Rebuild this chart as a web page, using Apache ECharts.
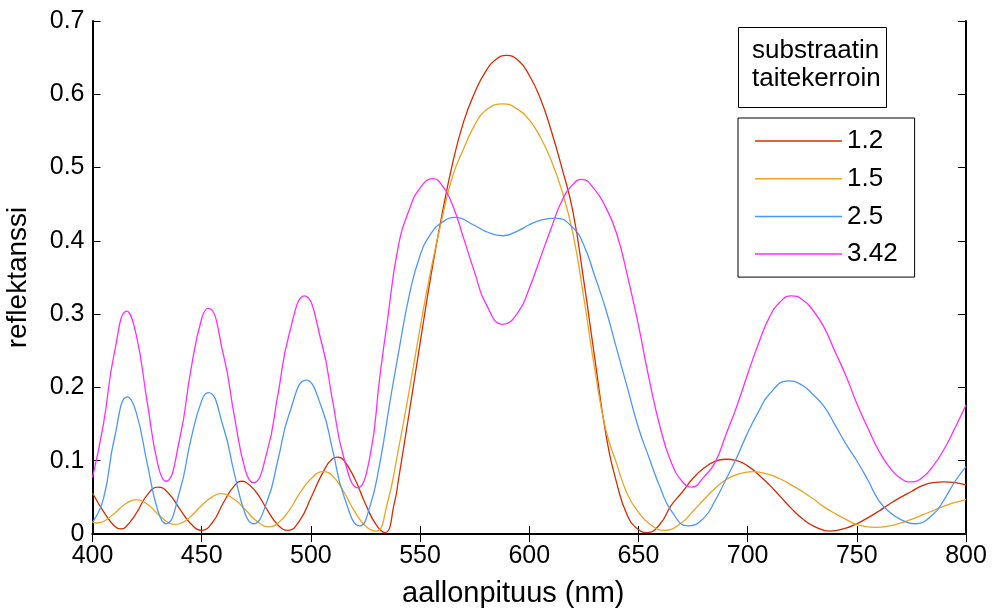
<!DOCTYPE html>
<html>
<head>
<meta charset="utf-8">
<script src="https://cdn.jsdelivr.net/npm/echarts@6/dist/echarts.min.js"></script>
<style>
html,body{margin:0;padding:0;background:#fff;}
#chart{width:993px;height:608px;}
</style>
</head>
<body>
<div id="chart"></div>
<script>
// Substrate index 1.2: wavelength (nm) and reflectance
const wl12 = [400,405,410,413,415,420,425,430,435,440,445,450,455,460,465,468.5,470,475,480,485,489.5,495,500,505,510,512.4,515,520,525,530,533.9,538.5,540,545,550,555,560,565,570,575,580,585,589.5,595,600,605,610,615,620,625,630,635,640,645,650,654,660,665,670,675,680,685,690,695,700,705,710,715,720,725,730,737.7,745,750,755,760,765,770,775,780,785,790,795,800];
const r12  = [0.056,0.031,0.011,0.007,0.009,0.028,0.053,0.064,0.055,0.034,0.014,0.005,0.016,0.043,0.066,0.072,0.071,0.057,0.033,0.012,0.005,0.019,0.049,0.081,0.103,0.105,0.101,0.076,0.041,0.012,0.002,0.046,0.072,0.165,0.260,0.353,0.435,0.507,0.563,0.602,0.631,0.648,0.653,0.646,0.626,0.595,0.551,0.499,0.440,0.345,0.240,0.138,0.070,0.025,0.006,0.002,0.014,0.039,0.057,0.076,0.090,0.099,0.102,0.100,0.093,0.081,0.067,0.051,0.035,0.021,0.011,0.004,0.008,0.014,0.022,0.031,0.041,0.050,0.058,0.066,0.070,0.071,0.070,0.067];

// Substrate index 1.5
const wl15 = [400,402,405,410,415,420,425,430,435,437.8,440,445,450,455,459,465,470,475,481,485,490,495,500,505.7,510,515,520,525,529.8,535,540,545,550,555,560,565,570,575,580,588,595,600,605,610,615,620,625,630,635,640,645,650,655,662,670,675,680,685,690,695,702.6,710,715,720,725,730,735,740,745,750,758.3,765,770,775,780,785,790,795,800];
const r15  = [0.016,0.015,0.017,0.028,0.041,0.047,0.041,0.027,0.015,0.013,0.014,0.024,0.039,0.051,0.055,0.047,0.033,0.018,0.010,0.015,0.032,0.056,0.075,0.085,0.079,0.058,0.031,0.011,0.004,0.042,0.114,0.195,0.281,0.361,0.430,0.489,0.526,0.558,0.578,0.587,0.579,0.565,0.542,0.510,0.468,0.410,0.322,0.225,0.143,0.096,0.054,0.030,0.014,0.005,0.016,0.031,0.047,0.062,0.074,0.081,0.085,0.081,0.075,0.067,0.058,0.048,0.037,0.028,0.020,0.013,0.009,0.011,0.015,0.020,0.026,0.032,0.038,0.043,0.047];

// Substrate index 2.5
const wl25 = [400,405,410,416,420,425,430,433.6,440,445,450,453,460,465,470,473.6,480,485,490,497.8,505,510,515,522.5,527,531.6,536.2,540,545,550,555,560,566,575,580,588,595,600,605,612,620,625,630,635,640,645,650,655,660,665,672.8,680,685,690,695,700,705,710,718.6,725,730,735,740,745,750,755,760,765,770,776.6,785,790,795,800];
const r25  = [0.016,0.048,0.130,0.187,0.166,0.097,0.031,0.014,0.059,0.128,0.182,0.193,0.145,0.082,0.027,0.014,0.045,0.102,0.163,0.210,0.172,0.114,0.053,0.011,0.037,0.097,0.180,0.245,0.325,0.380,0.410,0.425,0.432,0.421,0.413,0.407,0.414,0.422,0.428,0.431,0.418,0.394,0.352,0.307,0.253,0.199,0.145,0.103,0.063,0.032,0.011,0.022,0.045,0.074,0.104,0.138,0.167,0.191,0.209,0.203,0.190,0.174,0.149,0.123,0.100,0.074,0.046,0.030,0.020,0.014,0.027,0.047,0.072,0.092];

// Substrate index 3.42
const wl342 = [400,405,410,415.7,420,425,430,433.6,440,445,450,453,460,465,470,473.6,480,485,490,497,505,510,515,521.4,527,531.6,535,540,545,550,556,560,565,570,575,580,588,595,600,605,610,615,620,624,630,635,640,645,650,655,660,665,670,674.4,680,685,690,695,700,705,710,715,720,725,730,735,740,745,750,755,760,765,770,775,780,785,790,795,800];
const r342  = [0.077,0.150,0.247,0.304,0.272,0.181,0.094,0.072,0.131,0.223,0.294,0.308,0.244,0.160,0.087,0.070,0.113,0.192,0.272,0.325,0.260,0.181,0.105,0.063,0.105,0.215,0.290,0.392,0.442,0.472,0.485,0.476,0.448,0.403,0.357,0.315,0.286,0.303,0.335,0.376,0.417,0.455,0.477,0.484,0.470,0.446,0.410,0.352,0.285,0.210,0.145,0.098,0.072,0.064,0.078,0.097,0.135,0.174,0.218,0.260,0.296,0.317,0.325,0.320,0.305,0.282,0.249,0.216,0.178,0.145,0.114,0.091,0.076,0.071,0.077,0.093,0.116,0.145,0.176];

const seriesNames = ['1.2','1.5','2.5','3.42'];
const seriesX = [wl12, wl15, wl25, wl342];
const seriesY = [r12, r15, r25, r342];
const seriesColors = ['#d92b00','#eea321','#4b97ff','#ff2cff'];
const legendTitle = ['substraatin','taitekerroin'];
const xName = 'aallonpituus (nm)';
const yName = 'reflektanssi';

const FONT = 'Liberation Sans, Arial, Helvetica, sans-serif';

const chart = echarts.init(document.getElementById('chart'), null, {renderer:'canvas'});

const axisCommon = {
  axisLine:{show:true, lineStyle:{color:'#000', width:2}},
  axisTick:{show:true, inside:true, length:8, lineStyle:{color:'#000', width:1}},
  splitLine:{show:false}
};

const option = {
  backgroundColor:'#fff',
  animation:false,
  grid:{left:92.5, right:27, top:21, bottom:74, containLabel:false, outerBoundsMode:'none'},
  xAxis:[
    Object.assign({
      type:'value', position:'bottom', min:400, max:800, interval:50,
      name:xName, nameLocation:'middle', nameGap:45,
      nameTextStyle:{color:'#000', fontSize:29, fontFamily:FONT, padding:[0,32,0,0]},
      axisLabel:{color:'#000', fontSize:25, fontFamily:FONT, margin:10}
    }, axisCommon),
    Object.assign({
      type:'value', position:'top', min:400, max:800, interval:50,
      axisLabel:{show:false}
    }, axisCommon)
  ],
  yAxis:[
    Object.assign({
      type:'value', position:'left', min:0, max:0.7, interval:0.1,
      name:yName, nameLocation:'middle', nameGap:60,
      nameTextStyle:{color:'#000', fontSize:28, fontFamily:FONT},
      axisLabel:{color:'#000', fontSize:25, fontFamily:FONT, margin:8}
    }, axisCommon),
    Object.assign({
      type:'value', position:'right', min:0, max:0.7, interval:0.1,
      axisLabel:{show:false}
    }, axisCommon)
  ],
  legend:{
    orient:'vertical', left:738, top:118,
    data:seriesNames.map((n, i) => ({name:n, icon:'rect', itemStyle:{color:seriesColors[i]}})),
    backgroundColor:'#fff',
    borderColor:'#000', borderWidth:1,
    padding:[10,17,10,17],
    itemWidth:87, itemHeight:1.5, itemGap:11.7,
    textStyle:{color:'#000', fontSize:26, fontFamily:FONT, lineHeight:26}
  },
  graphic:[
    {type:'rect', left:738, top:27, z:100,
     shape:{x:0, y:0, width:148, height:80},
     style:{fill:'#fff', stroke:'#000', lineWidth:1}},
    {type:'text', left:752, top:37, z:101,
     style:{text:legendTitle.join('\n'), font:'26px ' + FONT, fill:'#000', lineHeight:28}}
  ],
  series: seriesNames.map((n, i) => ({
    name:n, type:'line', xAxisIndex:0, yAxisIndex:0,
    data: seriesX[i].map((w, j) => [w, seriesY[i][j]]),
    showSymbol:false, symbol:'none', smooth:0.5,
    lineStyle:{color:seriesColors[i], width:1.3},
    itemStyle:{color:seriesColors[i]},
    clip:true
  }))
};

chart.setOption(option);
</script>
</body>
</html>
